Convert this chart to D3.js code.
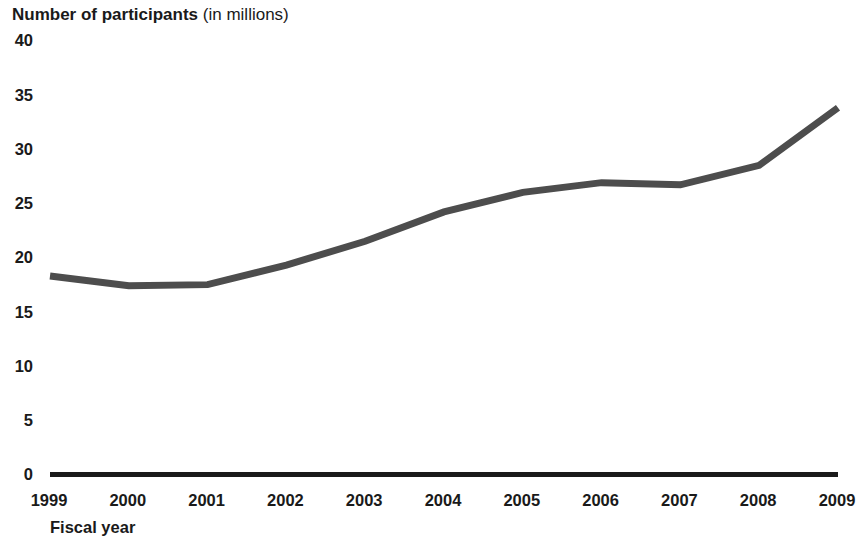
<!DOCTYPE html>
<html>
<head>
<meta charset="utf-8">
<script src="https://cdn.jsdelivr.net/npm/d3@7"></script>
<style>
  body { margin: 0; background: #fff; }
  text { font-family: "Liberation Sans", Arial, Helvetica, sans-serif; fill: #1a1a1a; }
</style>
</head>
<body>
<svg id="plot"></svg>
<script>
var years = [1999, 2000, 2001, 2002, 2003, 2004, 2005, 2006, 2007, 2008, 2009];
var participants = [18.3, 17.4, 17.5, 19.3, 21.5, 24.2, 26.0, 26.9, 26.7, 28.5, 33.8];
var yTicks = [0, 5, 10, 15, 20, 25, 30, 35, 40];

var width = 858, height = 540;

var x = d3.scaleLinear().domain([1999, 2009]).range([50, 838]);
var y = d3.scaleLinear().domain([0, 40]).range([474.5, 40.5]);

var svg = d3.select("#plot").attr("width", width).attr("height", height);

var data = years.map(function(yr, i) { return {year: yr, value: participants[i]}; });

// title
var title = svg.append("text").attr("x", 12).attr("y", 20).style("font-size", "17px");
title.append("tspan").style("font-weight", "bold").text("Number of participants");
title.append("tspan").text(" (in millions)");

// y labels
svg.append("g").selectAll("text")
    .data(yTicks)
    .enter().append("text")
    .attr("x", 33)
    .attr("y", function(d) { return y(d); })
    .attr("dy", "0.36em")
    .attr("text-anchor", "end")
    .style("font-weight", "bold")
    .style("font-size", "16.5px")
    .text(function(d) { return d; });

// x labels
svg.append("g").selectAll("text")
    .data(years)
    .enter().append("text")
    .attr("x", function(d) { return x(d) - 1; })
    .attr("y", 506)
    .attr("text-anchor", "middle")
    .style("font-weight", "bold")
    .style("font-size", "16.5px")
    .text(function(d) { return d; });

svg.append("text")
    .attr("x", 50).attr("y", 533)
    .style("font-weight", "bold")
    .style("font-size", "16.5px")
    .text("Fiscal year");

// baseline
svg.append("line")
    .attr("x1", x(1999)).attr("x2", x(2009))
    .attr("y1", y(0)).attr("y2", y(0))
    .attr("stroke", "#1a1a1a")
    .attr("stroke-width", 5);

var line = d3.line()
    .x(function(d) { return x(d.year); })
    .y(function(d) { return y(d.value); });

svg.append("path")
    .datum(data)
    .attr("d", line)
    .attr("fill", "none")
    .attr("stroke", "#4d4d4d")
    .attr("stroke-width", 7)
    .attr("stroke-linejoin", "miter");
</script>
</body>
</html>
